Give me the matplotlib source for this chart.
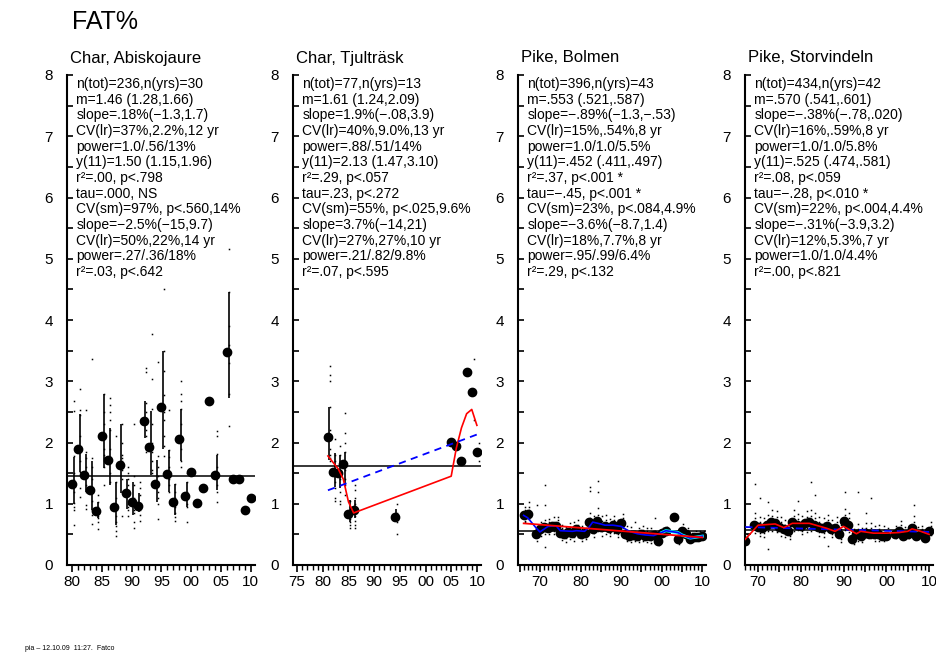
import numpy as np
import matplotlib
matplotlib.use('Agg')
import matplotlib.pyplot as plt
from matplotlib.ticker import MultipleLocator, FixedLocator, FuncFormatter

plt.rcParams['font.family'] = ['Liberation Sans', 'DejaVu Sans']

nan = np.nan

# --- Char, Abiskojaure ---
years1 = [1980, 1981, 1982, 1983, 1984, 1985, 1986, 1987, 1988, 1989,
          1990, 1991, 1992, 1993, 1994, 1995, 1996, 1997, 1998, 1999,
          2000, 2001, 2002, 2003, 2004, 2006, 2007, 2008, 2009, 2010]
mean1 = [1.32, 1.90, 1.47, 1.22, 0.88, 2.10, 1.71, 0.95, 1.63, 1.18,
         1.03, 0.97, 2.35, 1.92, 1.32, 2.58, 1.49, 1.03, 2.05, 1.12,
         1.52, 1.01, 1.25, 2.67, 1.47, 3.48, 1.40, 1.40, 0.89, 1.09]
hi1 = [1.77, 2.46, 1.81, 1.70, 1.03, 2.80, 2.23, 1.36, 2.30, 1.41,
       1.36, 1.17, 2.67, 2.51, 1.71, 3.50, 1.88, 1.33, 2.55, 1.36,
       nan, nan, nan, nan, 1.80, 4.46, nan, nan, nan, nan]
lo1 = [1.00, 1.52, 1.19, 0.89, 0.76, 1.58, 1.30, 0.65, 1.17, 0.92,
       0.81, 0.86, 2.07, 1.47, 1.03, 1.90, 1.19, 0.81, 1.69, 0.95,
       nan, nan, nan, nan, 1.22, 2.73, nan, nan, nan, nan]
pts1 = [[2.67, 2.52, 1.78, 1.5, 1.38, 1.2, 1.02, 0.95, 0.89, 0.66],
        [2.87, 2.53, 2.45, 2.1, 1.9, 1.7, 1.52, 1.25, 1.11],
        [2.53, 1.85, 1.75, 1.6, 1.45, 1.3, 1.2, 0.98, 0.92],
        [3.37, 1.74, 1.6, 1.4, 1.2, 1.05, 0.9, 0.81, 0.67],
        [1.14, 1.03, 0.95, 0.88, 0.8, 0.76, 0.7, 0.59],
        [2.8, 2.5, 2.3, 2.1, 1.9, 1.8, 1.75, 1.6, 1.3],
        [2.73, 2.62, 2.5, 2.37, 2.2, 1.9, 1.7, 1.5, 1.35],
        [2.1, 1.35, 1.1, 0.95, 0.8, 0.7, 0.63, 0.56, 0.48],
        [2.3, 2.0, 1.8, 1.75, 1.7, 1.55, 1.4, 1.2, 0.8],
        [1.6, 1.5, 1.4, 1.3, 1.15, 1.0, 0.95, 0.9, 0.8],
        [2.3, 1.45, 1.3, 1.1, 1.0, 0.9, 0.85, 0.7, 0.6],
        [1.35, 1.25, 1.15, 1.0, 0.95, 0.9, 0.82, 0.72],
        [3.22, 3.15, 2.65, 2.5, 2.4, 2.3, 2.2, 2.1, 1.9, 1.85],
        [3.77, 3.03, 2.55, 2.3, 2.0, 1.85, 1.7, 1.55, 1.5],
        [3.31, 1.78, 1.6, 1.45, 1.35, 1.2, 1.1, 1.0, 0.75],
        [4.5, 3.5, 3.16, 2.78, 2.5, 2.37, 2.1, 1.95, 1.78],
        [2.53, 1.88, 1.77, 1.6, 1.5, 1.4, 1.3, 1.2],
        [1.33, 1.2, 1.1, 1.0, 0.95, 0.85, 0.78, 0.72],
        [3.0, 2.8, 2.67, 2.55, 2.3, 2.1, 1.9, 1.7, 1.6],
        [1.5, 1.35, 1.2, 1.1, 1.0, 0.95, 0.7],
        [1.55, 1.52, 1.5], [1.01], [1.25], [2.67],
        [2.18, 2.1, 1.82, 1.6, 1.45, 1.3, 1.2, 1.03],
        [5.16, 4.46, 3.9, 3.6, 3.5, 3.3, 2.8, 2.27],
        [1.40], [1.40], [0.89], [1.09]]
grand1 = 1.46

# --- Char, Tjulträsk ---
years2 = [1981, 1982, 1983, 1984, 1985, 1986, 1994, 2005, 2006, 2007, 2008, 2009, 2010]
mean2 = [2.09, 1.52, 1.51, 1.65, 0.83, 0.89, 0.78, 2.01, 1.94, 1.70, 3.15, 2.82, 1.84]
hi2 = [2.58, 1.83, 1.80, 1.85, 1.06, 1.06, 0.92, nan, nan, nan, nan, nan, nan]
lo2 = [1.72, 1.28, 1.25, 1.30, 0.70, 0.76, 0.70, nan, nan, nan, nan, nan, nan]
pts2 = [[3.25, 3.11, 3.0, 2.58, 2.2, 2.1, 1.9, 1.8, 1.75, 1.7],
        [2.05, 1.8, 1.7, 1.55, 1.45, 1.35, 1.25, 1.1, 1.05],
        [1.95, 1.8, 1.7, 1.5, 1.4, 1.3, 1.2, 1.05, 1.0],
        [2.48, 2.15, 2.0, 1.85, 1.7, 1.55, 1.4, 1.3, 1.15],
        [1.05, 0.95, 0.85, 0.8, 0.75, 0.7, 0.65, 0.6],
        [1.3, 1.22, 1.1, 1.0, 0.9, 0.8, 0.72, 0.65, 0.6],
        [0.99, 0.85, 0.78, 0.7, 0.51],
        [2.01], [1.94], [1.70], [3.15],
        [3.37, 2.82, 2.36], [2.0, 1.84, 1.69]]
grand2 = 1.61
sm2_years = [1981, 1983, 1984, 1985, 1986, 2005, 2006, 2007, 2008, 2009, 2010]
sm2_vals = [1.78, 1.57, 1.40, 1.03, 0.85, 1.45, 1.91, 2.24, 2.47, 2.54, 2.28]
reg2_years = [1981, 2010]
reg2_vals = [1.22, 2.13]

# --- Pike, Bolmen ---
years3 = [1966, 1967, 1969, 1970, 1971, 1972, 1973, 1974, 1975, 1976,
          1977, 1978, 1979, 1980, 1981, 1982, 1983, 1984, 1985, 1986,
          1987, 1988, 1989, 1990, 1991, 1992, 1993, 1994, 1995, 1996,
          1997, 1998, 1999, 2000, 2001, 2003, 2004, 2005, 2006, 2007,
          2008, 2009, 2010]
mean3 = [0.81, 0.84, 0.50, 0.58, 0.62, 0.60, 0.63, 0.64, 0.52, 0.50,
         0.54, 0.52, 0.58, 0.50, 0.52, 0.70, 0.58, 0.72, 0.62, 0.64,
         0.60, 0.66, 0.58, 0.68, 0.50, 0.48, 0.49, 0.47, 0.50, 0.48,
         0.47, 0.49, 0.40, 0.53, 0.56, 0.78, 0.42, 0.55, 0.50, 0.43,
         0.45, 0.46, 0.47]
pts3 = [[0.95, 0.9, 0.85, 0.8, 0.76, 0.72, 0.7],
        [1.03, 0.95, 0.9, 0.84, 0.8, 0.75],
        [0.98, 0.6, 0.55, 0.5, 0.46, 0.4],
        [0.7, 0.64, 0.6, 0.56, 0.52, 0.47],
        [1.31, 0.98, 0.74, 0.66, 0.6, 0.55, 0.5, 0.3],
        [0.75, 0.7, 0.65, 0.6, 0.56, 0.5],
        [0.78, 0.7, 0.65, 0.61, 0.56, 0.5],
        [0.78, 0.74, 0.68, 0.62, 0.58, 0.52],
        [0.66, 0.6, 0.55, 0.5, 0.46, 0.41],
        [0.62, 0.57, 0.52, 0.48, 0.44, 0.38],
        [0.68, 0.62, 0.57, 0.52, 0.48, 0.43],
        [0.7, 0.6, 0.55, 0.5, 0.46, 0.4],
        [0.74, 0.66, 0.6, 0.56, 0.52, 0.46],
        [0.64, 0.58, 0.52, 0.48, 0.44, 0.39],
        [0.67, 0.6, 0.55, 0.5, 0.46, 0.42],
        [1.28, 1.21, 0.85, 0.76, 0.7, 0.65, 0.6, 0.55],
        [0.8, 0.7, 0.62, 0.56, 0.52, 0.45],
        [1.37, 1.19, 0.93, 0.82, 0.75, 0.68, 0.62, 0.55],
        [0.8, 0.72, 0.66, 0.6, 0.55, 0.48],
        [0.82, 0.74, 0.68, 0.62, 0.57, 0.5],
        [0.75, 0.68, 0.63, 0.58, 0.53, 0.47],
        [0.8, 0.74, 0.69, 0.64, 0.58, 0.52],
        [0.74, 0.67, 0.61, 0.56, 0.51, 0.45],
        [0.84, 0.76, 0.7, 0.66, 0.6, 0.54],
        [0.64, 0.57, 0.52, 0.48, 0.44, 0.4],
        [0.62, 0.55, 0.5, 0.46, 0.42, 0.38],
        [0.7, 0.56, 0.51, 0.47, 0.43, 0.39],
        [0.6, 0.54, 0.49, 0.45, 0.41, 0.37],
        [0.63, 0.57, 0.52, 0.48, 0.44, 0.4],
        [0.61, 0.55, 0.5, 0.46, 0.42, 0.38],
        [0.6, 0.54, 0.49, 0.45, 0.41, 0.36],
        [0.76, 0.56, 0.51, 0.47, 0.43, 0.39],
        [0.5, 0.45, 0.42, 0.38, 0.35, 0.32],
        [0.6, 0.54, 0.5],
        [0.62, 0.56, 0.5],
        [0.78],
        [0.52, 0.45, 0.4, 0.34],
        [0.67, 0.6, 0.55, 0.5, 0.45],
        [0.6, 0.54, 0.49, 0.44],
        [0.52, 0.47, 0.43, 0.39],
        [0.55, 0.49, 0.44, 0.4],
        [0.56, 0.5, 0.46, 0.42],
        [0.55, 0.5, 0.47, 0.43]]
grand3 = 0.553
sm3_years = [1966, 1967, 1969, 1970, 1972, 1974, 1975, 1978, 1979, 1981, 1982, 1983, 1985,
             1986, 1988, 1990, 1992, 1994, 1996, 1998, 2000, 2001, 2004, 2005, 2007, 2010]
sm3_vals = [0.81, 0.77, 0.61, 0.54, 0.63, 0.64, 0.56, 0.55, 0.56, 0.55, 0.61, 0.70, 0.67,
            0.65, 0.65, 0.63, 0.55, 0.51, 0.49, 0.48, 0.53, 0.56, 0.53, 0.49, 0.44, 0.47]
reg3_years = [1966, 2010]
reg3_vals = [0.68, 0.45]

# --- Pike, Storvindeln ---
years4 = [1967, 1969, 1970, 1971, 1972, 1973, 1974, 1975, 1976, 1977,
          1978, 1979, 1980, 1981, 1982, 1983, 1984, 1985, 1986, 1987,
          1988, 1989, 1990, 1991, 1992, 1993, 1994, 1995, 1996, 1997,
          1998, 1999, 2000, 2002, 2003, 2004, 2005, 2006, 2007, 2008,
          2009, 2010]
mean4 = [0.40, 0.66, 0.62, 0.60, 0.66, 0.70, 0.68, 0.62, 0.58, 0.56,
         0.70, 0.66, 0.64, 0.68, 0.70, 0.66, 0.62, 0.60, 0.63, 0.58,
         0.60, 0.50, 0.72, 0.66, 0.43, 0.50, 0.47, 0.53, 0.51, 0.50,
         0.50, 0.48, 0.48, 0.50, 0.56, 0.48, 0.50, 0.60, 0.48, 0.50,
         0.44, 0.55]
pts4 = [[0.5, 0.45, 0.41, 0.37, 0.34],
        [1.33, 0.85, 0.76, 0.7, 0.64, 0.58, 0.52],
        [1.09, 0.78, 0.7, 0.64, 0.58, 0.52, 0.47],
        [0.76, 0.68, 0.62, 0.57, 0.52, 0.46],
        [1.03, 0.82, 0.73, 0.67, 0.61, 0.55, 0.26],
        [0.9, 0.8, 0.74, 0.68, 0.62, 0.56],
        [0.88, 0.78, 0.72, 0.66, 0.6, 0.54],
        [0.78, 0.7, 0.64, 0.59, 0.54, 0.48],
        [0.74, 0.66, 0.6, 0.55, 0.5, 0.45],
        [0.72, 0.64, 0.58, 0.53, 0.48, 0.43],
        [0.9, 0.8, 0.74, 0.68, 0.62, 0.56],
        [1.05, 0.84, 0.75, 0.69, 0.63, 0.57],
        [0.8, 0.72, 0.66, 0.61, 0.56, 0.5],
        [0.88, 0.78, 0.72, 0.66, 0.6, 0.54],
        [1.36, 0.9, 0.8, 0.74, 0.68, 0.62, 0.55],
        [1.14, 0.85, 0.76, 0.7, 0.64, 0.58],
        [0.78, 0.7, 0.64, 0.59, 0.54, 0.48],
        [0.76, 0.68, 0.62, 0.57, 0.52, 0.46],
        [0.82, 0.73, 0.67, 0.62, 0.56, 0.31],
        [0.74, 0.66, 0.6, 0.55, 0.5, 0.45],
        [0.78, 0.7, 0.64, 0.59, 0.54, 0.48],
        [0.65, 0.58, 0.52, 0.47, 0.43, 0.38],
        [1.19, 0.92, 0.82, 0.76, 0.7, 0.63, 0.57],
        [0.85, 0.76, 0.7, 0.65, 0.6, 0.54],
        [0.58, 0.52, 0.47, 0.43, 0.39, 0.35],
        [1.2, 0.67, 0.59, 0.54, 0.49, 0.44, 0.39],
        [0.6, 0.54, 0.49, 0.45, 0.41, 0.37],
        [0.85, 0.68, 0.61, 0.56, 0.51, 0.46],
        [1.09, 0.68, 0.6, 0.54, 0.49, 0.44],
        [0.64, 0.57, 0.52, 0.48, 0.44, 0.4],
        [0.66, 0.59, 0.54, 0.49, 0.45, 0.4],
        [0.64, 0.57, 0.52, 0.48, 0.44, 0.39],
        [0.6, 0.54, 0.5, 0.46, 0.42],
        [0.64, 0.58, 0.53, 0.48, 0.44],
        [0.72, 0.65, 0.59, 0.54, 0.49],
        [0.62, 0.56, 0.51, 0.46, 0.42],
        [0.64, 0.58, 0.53, 0.48, 0.44],
        [0.98, 0.8, 0.7, 0.63, 0.57, 0.5],
        [0.62, 0.56, 0.51, 0.46, 0.42],
        [0.64, 0.58, 0.53, 0.48, 0.44],
        [0.57, 0.51, 0.47, 0.43, 0.39],
        [0.7, 0.64, 0.59, 0.54, 0.49]]
grand4 = 0.570
sm4_years = [1967, 1970, 1974, 1976, 1978, 1982, 1986, 1988, 1990, 1993, 1994, 1997,
             2000, 2003, 2005, 2006, 2008, 2010]
sm4_vals = [0.42, 0.65, 0.67, 0.61, 0.68, 0.68, 0.60, 0.55, 0.63, 0.51, 0.55, 0.52,
            0.52, 0.53, 0.55, 0.59, 0.55, 0.50]
reg4_years = [1967, 2010]
reg4_vals = [0.62, 0.54]

titles = ['Char, Abiskojaure', 'Char, Tjulträsk', 'Pike, Bolmen', 'Pike, Storvindeln']
stats = [
    ['n(tot)=236,n(yrs)=30', 'm=1.46 (1.28,1.66)', 'slope=.18%(\u22121.3,1.7)',
     'CV(lr)=37%,2.2%,12 yr', 'power=1.0/.56/13%', 'y(11)=1.50 (1.15,1.96)',
     'r\u00b2=.00, p<.798', 'tau=.000, NS', 'CV(sm)=97%, p<.560,14%',
     'slope=\u22122.5%(\u221215,9.7)', 'CV(lr)=50%,22%,14 yr', 'power=.27/.36/18%',
     'r\u00b2=.03, p<.642'],
    ['n(tot)=77,n(yrs)=13', 'm=1.61 (1.24,2.09)', 'slope=1.9%(\u2212.08,3.9)',
     'CV(lr)=40%,9.0%,13 yr', 'power=.88/.51/14%', 'y(11)=2.13 (1.47,3.10)',
     'r\u00b2=.29, p<.057', 'tau=.23, p<.272', 'CV(sm)=55%, p<.025,9.6%',
     'slope=3.7%(\u221214,21)', 'CV(lr)=27%,27%,10 yr', 'power=.21/.82/9.8%',
     'r\u00b2=.07, p<.595'],
    ['n(tot)=396,n(yrs)=43', 'm=.553 (.521,.587)', 'slope=\u2212.89%(\u22121.3,\u2212.53)',
     'CV(lr)=15%,.54%,8 yr', 'power=1.0/1.0/5.5%', 'y(11)=.452 (.411,.497)',
     'r\u00b2=.37, p<.001 *', 'tau=\u2212.45, p<.001 *', 'CV(sm)=23%, p<.084,4.9%',
     'slope=\u22123.6%(\u22128.7,1.4)', 'CV(lr)=18%,7.7%,8 yr', 'power=.95/.99/6.4%',
     'r\u00b2=.29, p<.132'],
    ['n(tot)=434,n(yrs)=42', 'm=.570 (.541,.601)', 'slope=\u2212.38%(\u2212.78,.020)',
     'CV(lr)=16%,.59%,8 yr', 'power=1.0/1.0/5.8%', 'y(11)=.525 (.474,.581)',
     'r\u00b2=.08, p<.059', 'tau=\u2212.28, p<.010 *', 'CV(sm)=22%, p<.004,4.4%',
     'slope=\u2212.31%(\u22123.9,3.2)', 'CV(lr)=12%,5.3%,7 yr', 'power=1.0/1.0/4.4%',
     'r\u00b2=.00, p<.821'],
]

W, H = 936, 657
fig = plt.figure(figsize=(W / 100, H / 100), dpi=100)

lefts = [67, 293, 518, 745]
xlims = [(1979.16, 2010.7), (1974.2, 2010.8), (1964.6, 2010.9), (1966.94, 2010.9)]
first_tick = [1980, 1975, 1965, 1967]
label_step = [5, 5, 10, 10]

panels = [
    (years1, mean1, lo1, hi1, pts1, grand1),
    (years2, mean2, lo2, hi2, pts2, grand2),
    (years3, mean3, None, None, pts3, grand3),
    (years4, mean4, None, None, pts4, grand4),
]


def year_label(step):
    def f(v, p):
        yr = int(round(v))
        return '%02d' % (yr % 100) if yr % step == 0 else ''
    return f


axes = []
for i, (yrs, mn, lo, hi, pts, grand) in enumerate(panels):
    ax = fig.add_axes([lefts[i] / W, 1 - 565 / H, 188 / W, 490 / H])
    axes.append(ax)
    ax.set_xlim(*xlims[i])
    ax.set_ylim(0, 8)
    for s in ['top', 'right']:
        ax.spines[s].set_visible(False)
    for s in ['left', 'bottom']:
        ax.spines[s].set_linewidth(1.5)

    # individual fish
    px, py = [], []
    for y, vals in zip(yrs, pts):
        px += [y + 0.35] * len(vals)
        py += vals
    ax.plot(px, py, ls='none', marker='s', ms=1.1, mfc='black', mec='none', zorder=2)

    # yearly intervals
    if lo is not None:
        ax.vlines(np.array(yrs) + 0.3, lo, hi, colors='black', lw=1.2, zorder=3)

    ax.axhline(grand, color='black', lw=1.1, zorder=3)
    ax.plot(yrs, mn, ls='none', marker='o', ms=6, color='black', zorder=5)

    # axes ticks
    ax.yaxis.set_major_locator(MultipleLocator(1))
    ax.yaxis.set_minor_locator(MultipleLocator(0.5))
    ax.tick_params(axis='y', which='both', direction='in', length=4, width=1.2,
                   labelsize=11, pad=10)
    majors = [y for y in range(1965, 2011, 5) if y >= xlims[i][0]]
    ax.xaxis.set_major_locator(FixedLocator(majors))
    ax.xaxis.set_minor_locator(FixedLocator(list(range(first_tick[i], 2011))))
    ax.xaxis.set_major_formatter(FuncFormatter(year_label(label_step[i])))
    ax.tick_params(axis='x', which='major', direction='out', length=5, width=1.2,
                   labelsize=11, pad=2)
    ax.tick_params(axis='x', which='minor', direction='out', length=3.5, width=1.0)

    # statistics block
    for k, line in enumerate(stats[i]):
        ax.text(0.05, 7.79 - 0.256 * k, line, transform=ax.get_yaxis_transform(),
                fontsize=10, va='baseline', ha='left')

    fig.text((lefts[i] + 3) / W, 1 - 58 / H, titles[i], fontsize=12, va='center', ha='left')

# trend lines
ax = axes[1]
ax.plot(sm2_years, sm2_vals, color='red', lw=1.2, zorder=6)
ax.plot(reg2_years, reg2_vals, color='blue', lw=1.3, ls=(0, (4, 3)), zorder=6)

ax = axes[2]
ax.plot([y for y in sm3_years if y >= 2000], [v for y, v in zip(sm3_years, sm3_vals) if y >= 2000],
        color='cyan', lw=2.2, zorder=6)
ax.plot(sm3_years, sm3_vals, color='blue', lw=1.2, zorder=7)
ax.plot(reg3_years, reg3_vals, color='red', lw=1.3, zorder=8)

ax = axes[3]
ax.plot(reg4_years, reg4_vals, color='blue', lw=1.3, ls=(0, (4, 3)), zorder=6)
ax.plot(sm4_years, sm4_vals, color='red', lw=1.2, zorder=7)

fig.text(72 / W, 1 - 22 / H, 'FAT%', fontsize=18, va='center', ha='left')
fig.text(25 / W, 1 - 648 / H, 'pia \u2013 12.10.09  11:27.  Fatco', fontsize=5, va='center', ha='left')

fig.savefig('out.png', dpi=100)
